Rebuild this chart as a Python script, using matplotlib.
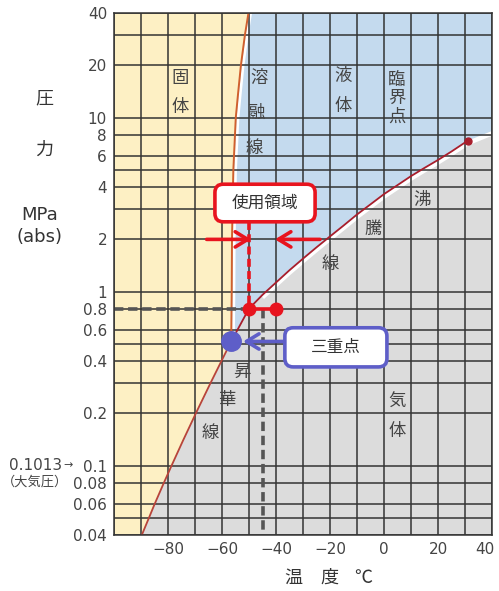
import matplotlib
matplotlib.use("Agg")
import matplotlib.pyplot as plt
import matplotlib.transforms as mtransforms
from matplotlib.patches import FancyBboxPatch
from matplotlib.ticker import FixedLocator, FixedFormatter, NullFormatter

plt.rcParams['font.family'] = ['Noto Sans CJK JP', 'DejaVu Sans']

# ---------------- data ----------------
# melting curve (solid / liquid)
melt_T = [-56.6, -56.4, -56.3, -55.8, -54.9, -54.1, -53.0, -51.5, -50.2]
melt_P = [0.518, 1.0, 2.0, 5.0, 10.0, 13.5, 20.0, 30.0, 40.0]
# sublimation curve (solid / gas)
subl_T = [-89.7, -87.1, -85.0, -81.5, -78.7, -74.4, -69.7, -64.2, -60.2, -56.6]
subl_P = [0.04, 0.05, 0.06, 0.08, 0.1, 0.14, 0.2, 0.3, 0.4, 0.518]
# boiling curve (liquid / gas), triple point -> critical point
boil_T = [-56.6, -50, -45, -40, -35, -30, -25, -20, -15, -10, -5, 0, 5, 10, 15, 20, 25, 31]
boil_P = [0.518, 0.80, 0.96, 1.13, 1.33, 1.55, 1.80, 2.08, 2.40, 2.78, 3.18, 3.64,
          4.10, 4.62, 5.15, 5.72, 6.40, 7.38]
# continuation of gas-region border beyond the critical point
ext_T = [31, 40]
ext_P = [7.38, 8.4]

triple_T, triple_P = -56.6, 0.518
critical_T, critical_P = 31.0, 7.38

# usage region markers
use_T = [-50, -40]
use_P = [0.8, 0.8]
use_arrow_P = 2.0
use_arrow_left = (-65.7, -49.2)
use_arrow_right = (-23.7, -40.4)
use_box_P = 2.51
ref_T = -45          # vertical grey dashed line
ref_P = 0.8          # horizontal grey dashed line

x_major = [-80, -60, -40, -20, 0, 20, 40]
x_major_labels = ["−80", "−60", "−40", "−20", "0", "20", "40"]
x_minor = [-100, -90, -70, -50, -30, -10, 10, 30]
y_major = [0.04, 0.06, 0.08, 0.1, 0.2, 0.4, 0.6, 0.8, 1, 2, 4, 6, 8, 10, 20, 40]
y_major_labels = ["0.04", "0.06", "0.08", "0.1", "0.2", "0.4", "0.6", "0.8",
                  "1", "2", "4", "6", "8", "10", "20", "40"]
y_minor = [0.05, 0.3, 0.5, 3, 5, 30]

# ---------------- styles ----------------
C_SOLID = '#FDF0C4'
C_LIQ = '#C4DAEE'
C_GAS = '#DCDCDC'
C_GRID = '#333333'
C_RED = '#E8141E'
C_BLUE = '#5E5EC8'
C_TXT = '#444444'
LATIN = ['DejaVu Sans']

fig = plt.figure(figsize=(4.99, 5.91), dpi=100)
fig.patch.set_facecolor('white')
ax = fig.add_axes([114/499, 56/591, 378/499, 522/591])
ax.set_yscale('log')
ax.set_xlim(-100, 40)
ax.set_ylim(0.04, 40)
ax.set_facecolor(C_LIQ)

xmin, xmax = ax.get_xlim()
ymin, ymax = ax.get_ylim()

# solid region
solid_x = [xmin] + melt_T[::-1] + subl_T[::-1][1:] + [xmin]
solid_y = [ymax] + melt_P[::-1] + subl_P[::-1][1:] + [ymin]
ax.fill(solid_x, solid_y, color=C_SOLID, lw=0, zorder=1)
# gas region
gas_x = subl_T + boil_T[1:] + ext_T[1:] + [xmax]
gas_y = subl_P + boil_P[1:] + ext_P[1:] + [ymin]
ax.fill(gas_x, gas_y, color=C_GAS, lw=0, zorder=1)

# white bands along borders
off_down = mtransforms.offset_copy(ax.transData, fig=fig, x=0, y=-1.8, units='points')
ax.plot(boil_T[2:] + ext_T[1:], boil_P[2:] + ext_P[1:], color='white', lw=3.2,
        transform=off_down, zorder=2, solid_capstyle='butt')
off_right = mtransforms.offset_copy(ax.transData, fig=fig, x=1.6, y=0, units='points')
ax.plot(melt_T, melt_P, color='white', lw=2.0, transform=off_right, zorder=2)

# grid
for v in x_major + x_minor:
    ax.axvline(v, color=C_GRID, lw=1.1, zorder=3)
for v in y_major + y_minor:
    ax.axhline(v, color=C_GRID, lw=1.1, zorder=3)

# phase lines
ax.plot(melt_T, melt_P, color='#D0602E', lw=1.4, zorder=4)
ax.plot(subl_T, subl_P, color='#B8443A', lw=1.3, zorder=4)
ax.plot(boil_T, boil_P, color='#A81E2C', lw=1.3, zorder=4)
ax.plot([critical_T], [critical_P], 'o', color='#A81E2C', ms=5, zorder=5)

# grey dashed reference lines
ax.plot([xmin, use_T[0]], [ref_P, ref_P], color='#555555', lw=2.6,
        dashes=(2.6, 1.3), zorder=5)
ax.plot([ref_T, ref_T], [ref_P, ymin], color='#555555', lw=2.6,
        dashes=(2.6, 1.3), zorder=5)

# usage region (red)
ax.plot([use_T[0], use_T[0]], [use_box_P, use_P[0]], color=C_RED, lw=2.6,
        dashes=(2.2, 1.2), zorder=6)
ax.plot(use_T, use_P, color=C_RED, lw=2.6, marker='o', ms=9, zorder=7)
ax.annotate('', xy=(use_arrow_left[1], use_arrow_P), xytext=(use_arrow_left[0], use_arrow_P),
            arrowprops=dict(arrowstyle='->,head_length=0.9,head_width=0.55', color=C_RED,
                            lw=2.6, shrinkA=0, shrinkB=0), zorder=7)
ax.annotate('', xy=(use_arrow_right[1], use_arrow_P), xytext=(use_arrow_right[0], use_arrow_P),
            arrowprops=dict(arrowstyle='->,head_length=0.9,head_width=0.55', color=C_RED,
                            lw=2.6, shrinkA=0, shrinkB=0), zorder=7)

# triple point (blue)
ax.plot([triple_T], [triple_P], 'o', color=C_BLUE, ms=14, zorder=7)
ax.annotate('', xy=(-52.2, triple_P), xytext=(-36.7, triple_P),
            arrowprops=dict(arrowstyle='->,head_length=0.9,head_width=0.55', color=C_BLUE,
                            lw=2.6, shrinkA=0, shrinkB=0), zorder=7)

asp = 378 / 522


def rbox(x0, y0, x1, y1, ec, text):
    p = FancyBboxPatch((x0, y0), x1 - x0, y1 - y0,
                       boxstyle='round,pad=0,rounding_size=0.022',
                       mutation_aspect=asp, transform=ax.transAxes,
                       fc='white', ec=ec, lw=2.6, zorder=8, clip_on=False)
    ax.add_patch(p)
    ax.text((x0 + x1) / 2, (y0 + y1) / 2, text, transform=ax.transAxes,
            ha='center', va='center', fontsize=12, color='#333333', zorder=9)


rbox(0.267, 0.600, 0.532, 0.672, C_RED, '使用領域')
rbox(0.452, 0.322, 0.722, 0.397, C_BLUE, '三重点')

# region labels (axes fraction positions)
labels = [
    ('固', 0.175, 0.876), ('体', 0.175, 0.819),
    ('溶', 0.384, 0.875), ('融', 0.378, 0.808), ('線', 0.370, 0.741),
    ('液', 0.607, 0.879), ('体', 0.607, 0.822),
    ('臨', 0.748, 0.872), ('界', 0.748, 0.837), ('点', 0.748, 0.801),
    ('沸', 0.814, 0.642), ('騰', 0.686, 0.586), ('線', 0.571, 0.520),
    ('昇', 0.339, 0.312), ('華', 0.298, 0.259), ('線', 0.254, 0.195),
    ('気', 0.750, 0.255), ('体', 0.750, 0.199),
]
for t, x, y in labels:
    ax.text(x, y, t, transform=ax.transAxes, ha='center', va='center',
            fontsize=12.5, color=C_TXT, zorder=6)

# axes / ticks
ax.xaxis.set_major_locator(FixedLocator(x_major))
ax.xaxis.set_major_formatter(FixedFormatter(x_major_labels))
ax.xaxis.set_minor_locator(FixedLocator(x_minor))
ax.xaxis.set_minor_formatter(NullFormatter())
ax.yaxis.set_major_locator(FixedLocator(y_major))
ax.yaxis.set_major_formatter(FixedFormatter(y_major_labels))
ax.yaxis.set_minor_locator(FixedLocator(y_minor))
ax.yaxis.set_minor_formatter(NullFormatter())
ax.tick_params(which='both', length=0, labelsize=11, labelcolor=C_TXT)
ax.tick_params(axis='x', pad=5)
ax.tick_params(axis='y', pad=5)
for lab in ax.get_xticklabels() + ax.get_yticklabels():
    lab.set_family(LATIN)
# keep the last x label ("40") inside the figure edge
last = ax.xaxis.get_major_ticks()[-1].label1
last.set_transform(last.get_transform() +
                   mtransforms.ScaledTranslation(-5/72, 0, fig.dpi_scale_trans))
for s in ax.spines.values():
    s.set_color(C_GRID)
    s.set_linewidth(1.1)
    s.set_zorder(10)

# axis titles
fig.text(44/499, 1 - 98/591, '圧', ha='center', va='center', fontsize=13, color='#333333')
fig.text(44/499, 1 - 150/591, '力', ha='center', va='center', fontsize=13, color='#333333')
fig.text(40/499, 1 - 215/591, 'MPa', ha='center', va='center', fontsize=13,
         color='#333333', family=LATIN)
fig.text(40/499, 1 - 237/591, '(abs)', ha='center', va='center', fontsize=13,
         color='#333333', family=LATIN)
fig.text(62/499, 1 - 465/591, '0.1013', ha='right', va='center', fontsize=11,
         color=C_TXT, family=LATIN)
fig.text(63/499, 1 - 465/591, '→', ha='left', va='center', fontsize=8, color=C_TXT,
         family=LATIN)
fig.text(35/499, 1 - 482/591, '（大気圧）', ha='center', va='center', fontsize=9.5, color=C_TXT)
for t, px in [('温', 293), ('度', 329), ('℃', 363)]:
    fig.text(px/499, 1 - 578/591, t, ha='center', va='center', fontsize=13, color='#333333')

fig.savefig('out.png', dpi=100)
